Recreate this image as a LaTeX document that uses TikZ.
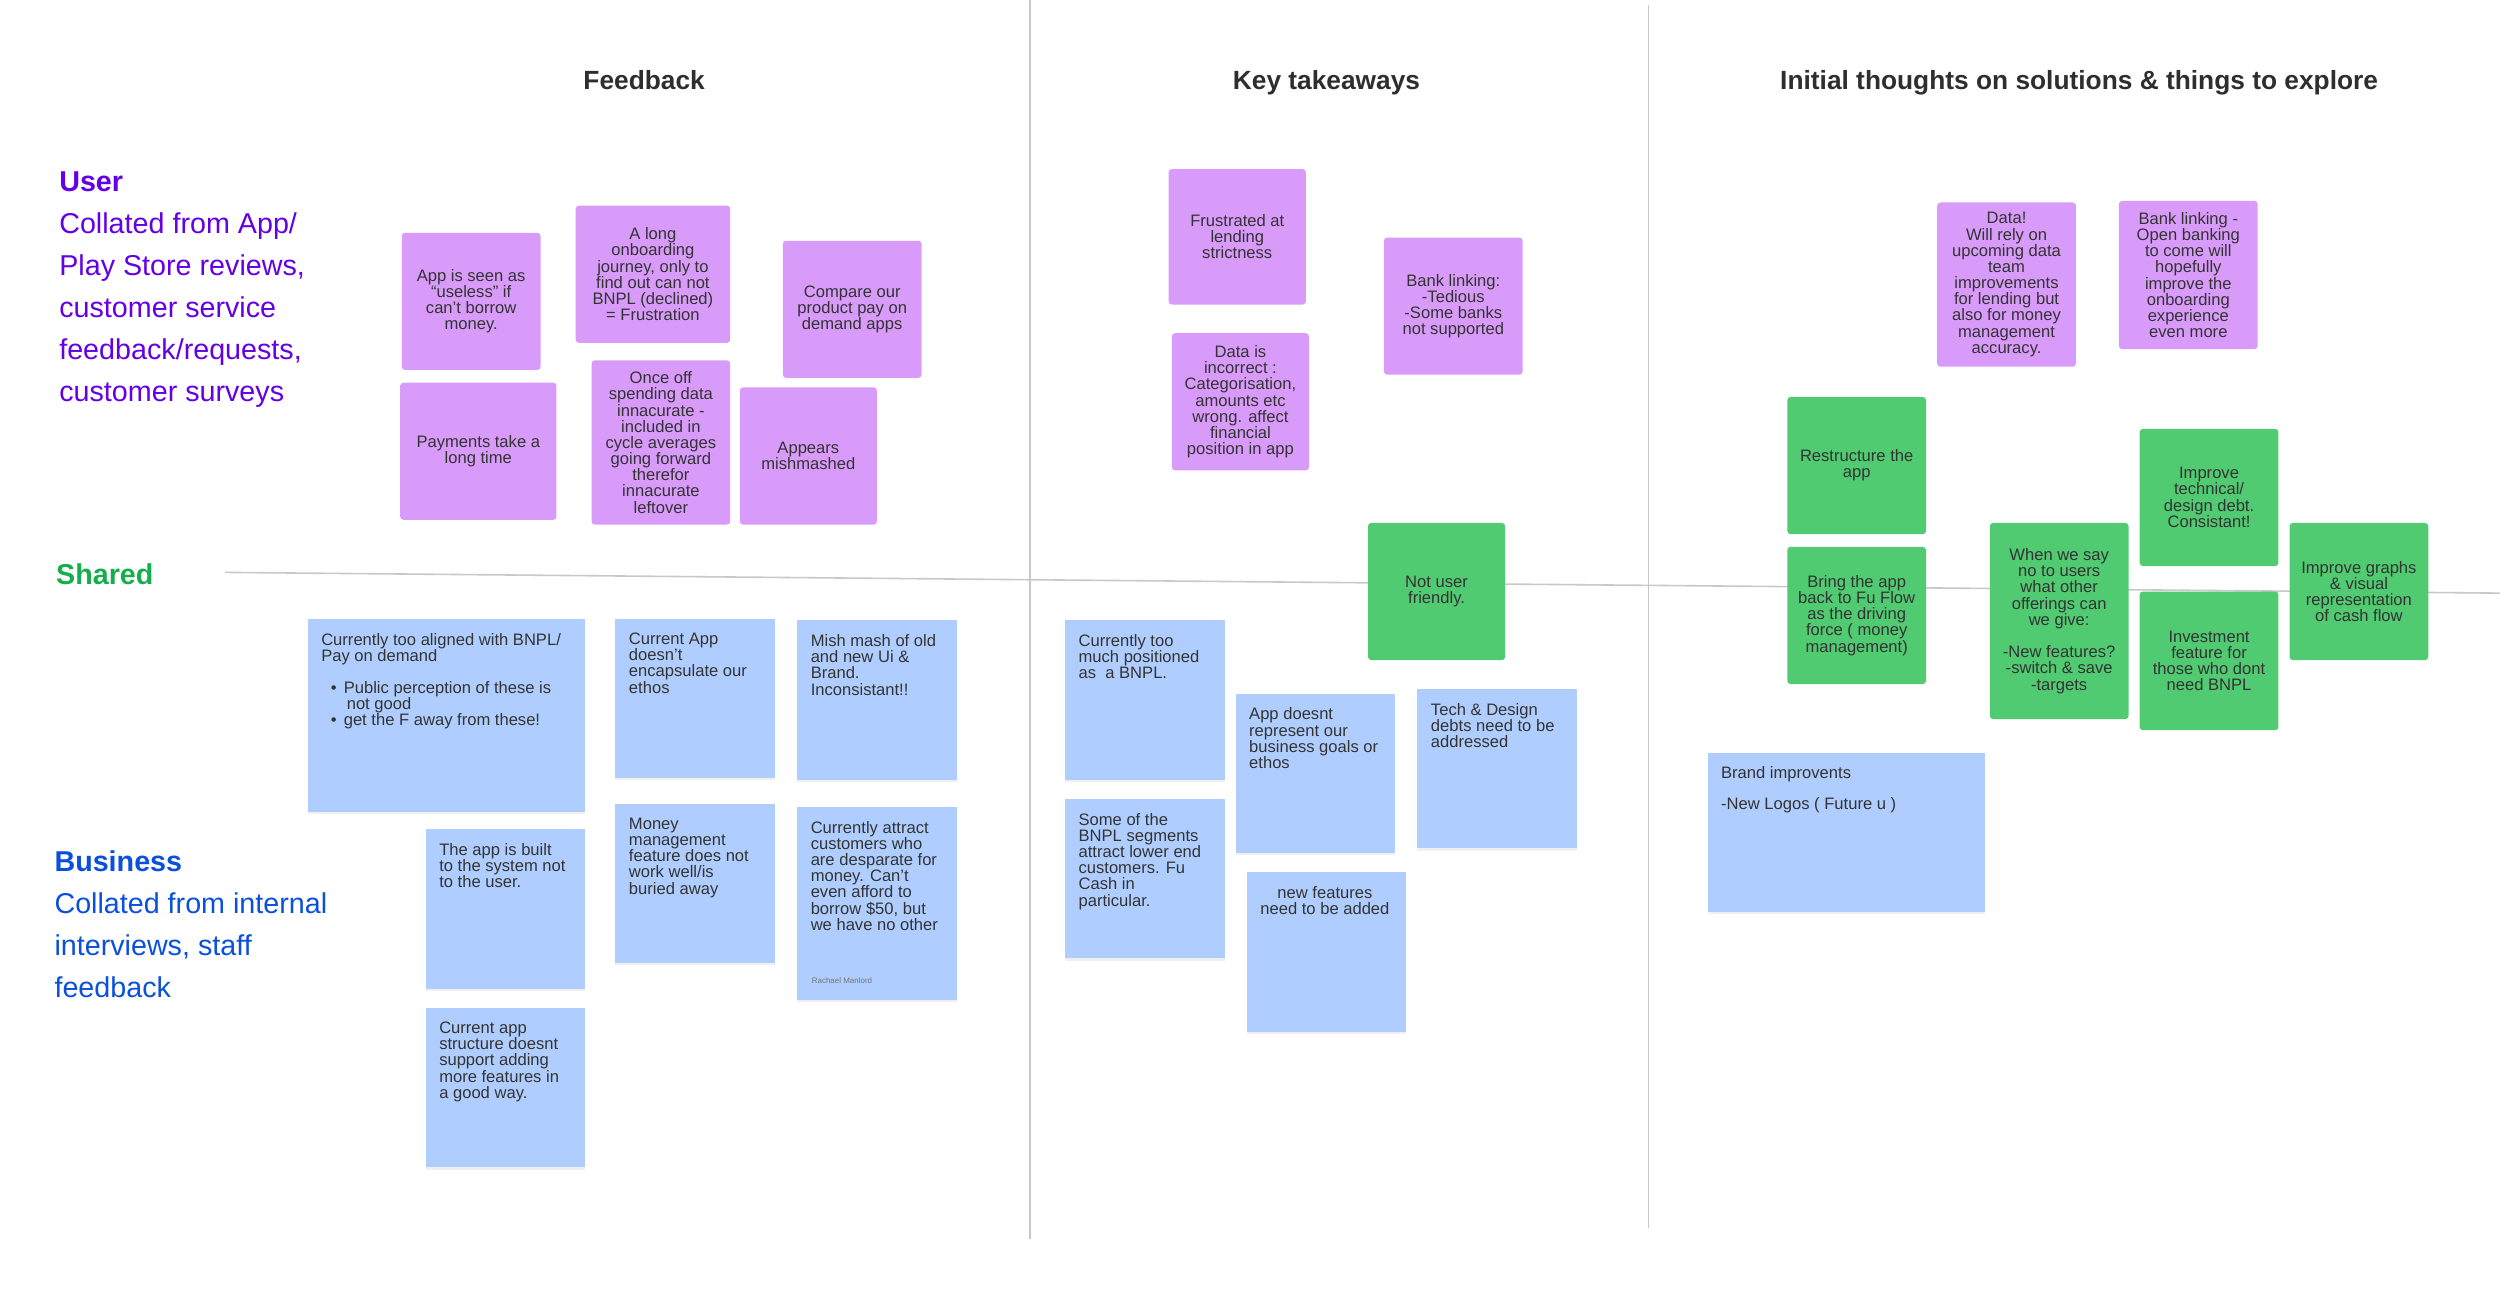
\documentclass[tikz,border=0pt]{standalone}
\usepackage{fontspec}
\setmainfont{Liberation Sans}
\usetikzlibrary{shadows}

\definecolor{notepurple}{HTML}{D99BFA}
\definecolor{notegreen}{HTML}{50CB71}
\definecolor{noteblue}{HTML}{AFCEFF}
\definecolor{notetext}{HTML}{333333}
\definecolor{headtext}{HTML}{2E2E2E}
\definecolor{linegray}{HTML}{C8C8C8}
\definecolor{userviolet}{HTML}{6400E6}
\definecolor{sharedgreen}{HTML}{14AE4C}
\definecolor{bizblue}{HTML}{0A50DC}

\newcommand\notefont{\fontsize{10.4}{10.15}\selectfont}
\newcommand\headfont{\fontsize{16.5}{18}\selectfont\bfseries}
\newcommand\sidefont{\fontsize{18}{26.3}\selectfont}

\begin{document}
\begin{tikzpicture}[x=1pt, y=-1pt,
    note/.style={inner sep=0pt, align=center, text=notetext, font=\notefont, rounded corners=2pt},
    pnote/.style={note, fill=notepurple},
    gnote/.style={note, fill=notegreen},
    bnote/.style={inner sep=0pt, fill=noteblue, drop shadow={opacity=0.12, shadow xshift=0pt, shadow yshift=-1.5pt}},
    btext/.style={anchor=north west, align=left, inner sep=0pt, text=notetext, font=\notefont, xshift=8.5pt, yshift=-9pt},
    divider/.style={draw=linegray, line width=1pt},
    heading/.style={font=\headfont, text=headtext, anchor=base},
    side/.style={font=\sidefont, align=left, inner sep=0pt, anchor=north west}]
      \useasboundingbox (0,0) rectangle (1568,825);

      % column dividers and the shared line
      \draw[divider] (646,0) -- (646,777);
      \draw[divider] (1034,3) -- (1034,770);
      \draw[divider] (141,359) -- (1568,372);

      % headings
      \node[heading] (hfb) at (404,56) {Feedback};
      \node[heading] (hkt) at (832,56) {Key takeaways};
      \node[heading] (hin) at (1304,56) {Initial thoughts on solutions \& things to explore};

      % row labels
      \node[side, text=userviolet] (luser) at (37,107.5) {\textbf{User}\\Collated from App/\\Play Store reviews,\\customer service\\feedback/requests,\\customer surveys};
      \node[font=\sidefont\bfseries, text=sharedgreen, anchor=west, inner sep=0pt] (lshared) at (35,360) {Shared};
      \node[side, text=bizblue] (lbiz) at (34,533.5) {\textbf{Business}\\Collated from internal\\interviews, staff\\feedback};

      % user feedback
      \node[pnote, minimum width=87pt, minimum height=86pt] (P1) at (295.5,189) {App is seen as\\“useless” if\\can’t borrow\\money.};
      \node[pnote, minimum width=97pt, minimum height=86pt] (P2) at (409.5,172) {A long\\onboarding\\journey, only to\\find out can not\\BNPL (declined)\\= Frustration};
      \node[pnote, minimum width=87pt, minimum height=86pt] (P3) at (534.5,194) {Compare our\\product pay on\\demand apps};
      \node[pnote, minimum width=98pt, minimum height=86pt] (P4) at (300,283) {Payments take a\\long time};
      \node[pnote, minimum width=87pt, minimum height=103pt] (P5) at (414.5,277.5) {Once off\\spending data\\innacurate -\\included in\\cycle averages\\going forward\\therefor\\innacurate\\leftover};
      \node[pnote, minimum width=86pt, minimum height=86pt] (P6) at (507,286) {Appears\\mishmashed};

      % user takeaways
      \node[pnote, minimum width=86pt, minimum height=85pt] (K1) at (776,148.5) {Frustrated at\\lending\\strictness};
      \node[pnote, minimum width=86pt, minimum height=86pt] (K2) at (778,252) {Data is\\incorrect :\\Categorisation,\\amounts etc\\wrong. affect\\financial\\position in app};
      \node[pnote, minimum width=87pt, minimum height=86pt] (K3) at (911.5,192) {Bank linking:\\-Tedious\\-Some banks\\not supported};

      % user solutions
      \node[pnote, minimum width=87pt, minimum height=103pt] (S1) at (1258.5,178.5) {Data!\\Will rely on\\upcoming data\\team\\improvements\\for lending but\\also for money\\management\\accuracy.};
      \node[pnote, minimum width=87pt, minimum height=93pt] (S2) at (1372.5,172.5) {Bank linking -\\Open banking\\to come will\\hopefully\\improve the\\onboarding\\experience\\even more};

      % shared
      \node[gnote, minimum width=86pt, minimum height=86pt] (G0) at (901,371) {Not user\\friendly.};
      \node[gnote, minimum width=87pt, minimum height=86pt] (G1) at (1164.5,292) {Restructure the\\app};
      \node[gnote, minimum width=87pt, minimum height=86pt] (G2) at (1164.5,386) {Bring the app\\back to Fu Flow\\as the driving\\force ( money\\management)};
      \node[gnote, minimum width=87pt, minimum height=123pt] (G3) at (1291.5,389.5) {When we say\\no to users\\what other\\offerings can\\we give:\\[10.15pt]-New features?\\-switch \& save\\-targets};
      \node[gnote, minimum width=87pt, minimum height=86pt] (G4) at (1385.5,312) {Improve\\technical/\\design debt.\\Consistant!};
      \node[gnote, minimum width=87pt, minimum height=87pt] (G5) at (1385.5,414.5) {Investment\\feature for\\those who dont\\need BNPL};
      \node[gnote, minimum width=87pt, minimum height=86pt] (G6) at (1479.5,371) {Improve graphs\\\& visual\\representation\\of cash flow};

      % business feedback
      \node[bnote, minimum width=174pt, minimum height=121pt] (B1) at (280,448.5) {};
      \node[btext] (B1t) at (B1.north west) {Currently too aligned with BNPL/\\Pay on demand\\[10.15pt]\hspace*{6pt}\textbullet\hspace*{4.5pt}Public perception of these is\\\hspace*{16pt}not good\\\hspace*{6pt}\textbullet\hspace*{4.5pt}get the F away from these!};
      \node[bnote, minimum width=100pt, minimum height=100pt] (B2) at (436,438) {};
      \node[btext] (B2t) at (B2.north west) {Current App\\doesn’t\\encapsulate our\\ethos};
      \node[bnote, minimum width=100pt, minimum height=100pt] (B3) at (550,439) {};
      \node[btext] (B3t) at (B3.north west) {Mish mash of old\\and new Ui \&\\Brand.\\Inconsistant!!};
      \node[bnote, minimum width=100pt, minimum height=100pt] (B4) at (317,570) {};
      \node[btext] (B4t) at (B4.north west) {The app is built\\to the system not\\to the user.};
      \node[bnote, minimum width=100pt, minimum height=100pt] (B5) at (436,554) {};
      \node[btext] (B5t) at (B5.north west) {Money\\management\\feature does not\\work well/is\\buried away};
      \node[bnote, minimum width=100pt, minimum height=121pt] (B6) at (550,566.5) {};
      \node[btext] (B6t) at (B6.north west) {Currently attract\\customers who\\are desparate for\\money. Can’t\\even afford to\\borrow \$50, but\\we have no other};
      \node[anchor=west, inner sep=0pt, font=\fontsize{5}{6}\selectfont, text=black!55] (B6s) at (509,615) {Rachael Manlord};
      \node[bnote, minimum width=100pt, minimum height=100pt] (B7) at (317,682) {};
      \node[btext] (B7t) at (B7.north west) {Current app\\structure doesnt\\support adding\\more features in\\a good way.};

      % business takeaways
      \node[bnote, minimum width=100pt, minimum height=100pt] (T1) at (718,439) {};
      \node[btext] (T1t) at (T1.north west) {Currently too\\much positioned\\as\ \ a BNPL.};
      \node[bnote, minimum width=100pt, minimum height=100pt] (T2) at (825,485) {};
      \node[btext] (T2t) at (T2.north west) {App doesnt\\represent our\\business goals or\\ethos};
      \node[bnote, minimum width=100pt, minimum height=100pt] (T3) at (939,482) {};
      \node[btext] (T3t) at (T3.north west) {Tech \& Design\\debts need to be\\addressed};
      \node[bnote, minimum width=100pt, minimum height=100pt] (T4) at (718,551) {};
      \node[btext] (T4t) at (T4.north west) {Some of the\\BNPL segments\\attract lower end\\customers. Fu\\Cash in\\particular.};
      \node[bnote, minimum width=100pt, minimum height=100pt] (T5) at (832,597) {};
      \node[btext, align=center] (T5t) at (T5.north west) {new features\\need to be added};

      % business solutions
      \node[bnote, minimum width=174pt, minimum height=100pt] (BR) at (1158,522) {};
      \node[btext] (BRt) at (BR.north west) {Brand improvents\\[9pt]-New Logos ( Future u )};
\end{tikzpicture}
\end{document}
